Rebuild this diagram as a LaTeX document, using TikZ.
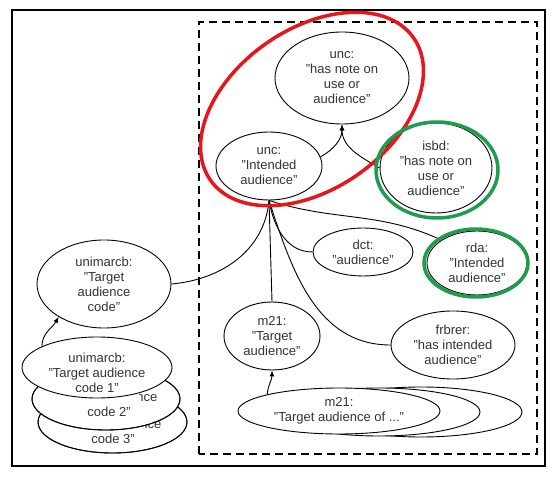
\documentclass[tikz,border=0pt]{standalone}
\usepackage{fontspec}
\setmainfont{Liberation Sans}
\usepackage{tikz}
\usetikzlibrary{shapes.geometric,arrows.meta}
\definecolor{hlred}{RGB}{232,22,28}
\definecolor{hlgreen}{RGB}{28,158,78}

\begin{document}
\begin{tikzpicture}[x=1pt,y=1pt,
  ent/.style={ellipse,draw,line width=0.9pt,fill=white,inner sep=0pt,align=center,
    text=black!80,font=\fontsize{13}{15}\selectfont},
  lbl/.style={inner sep=0pt,align=center,text=black!80,font=\fontsize{13}{15}\selectfont},
  link/.style={line width=0.9pt},
  tip/.style={-{Latex[length=6pt,width=5pt]}},
  hl/.style={line width=3.5pt}]
\useasboundingbox (0,0) rectangle (555,477);
\draw[line width=2.5pt] (12,11) rectangle (545,467);
\draw[line width=2pt,dash pattern=on 8pt off 5pt] (199,23) rectangle (537,455);
% unc
\node[ent,minimum width=134,minimum height=92] (note) at (342,399) {unc:\\"has note on\\use or\\audience"};
\node[ent,minimum width=106,minimum height=68] (intended) at (269,311) {unc:\\"Intended\\audience"};
% other vocabularies
\node[ent,minimum width=112,minimum height=90] (isbd) at (436,309) {isbd:\\"has note on\\use or\\audience"};
\node[ent,minimum width=100,minimum height=48] (dct) at (363,225) {dct:\\"audience"};
\node[ent,minimum width=100,minimum height=64] (rda) at (477,214) {rda:\\"Intended\\audience"};
\node[ent,minimum width=96,minimum height=68] (m21) at (272,141) {m21:\\"Target\\audience"};
\node[ent,minimum width=124,minimum height=68] (frbrer) at (453,132) {frbrer:\\"has intended\\audience"};
\node[ent,minimum width=134,minimum height=88] (unicode) at (104,193) {unimarcb:\\"Target\\audience\\code"};
% stacked values
\node[ent,minimum width=149,minimum height=62] (code3) at (112.5,55) {};
\node[lbl] (code3t) at (113,53.5) {unimarcb:\\"Target audience\\code 3"};
\fill[white] (55,45) rectangle (143,97);
\draw[line width=0.9pt] (112.5,55) ellipse (74.5 and 31);
\node[ent,minimum width=148,minimum height=62] (code2) at (106,78) {};
\node[lbl] (code2t) at (109,80) {unimarcb:\\"Target audience\\code 2"};
\fill[white] (45,71) rectangle (139,127);
\draw[line width=0.9pt] (106,78) ellipse (74 and 31);
\node[ent,minimum width=150,minimum height=61] (code1) at (97,109.5) {};
\node[lbl] (code1t) at (97,104.5) {unimarcb:\\"Target audience\\code 1"};
\node[ent,minimum width=202,minimum height=50] (m21ofc) at (421,65) {};
\node[ent,minimum width=202,minimum height=48] (m21ofb) at (379,65) {};
\node[ent,minimum width=202,minimum height=46] (m21of) at (339,66) {m21:\\"Target audience of ..."};
% links
\draw[link,tip] (intended.10) to[out=30,in=-90] (note.south);
\draw[link,tip] (isbd.west) to[out=150,in=-90] (note.south);
\draw[link] (unicode.east) to[out=5,in=-95] (intended.south);
\draw[link,tip] (m21.north) -- (intended.south);
\draw[link] (dct.west) to[out=180,in=-80] (intended.south);
\draw[link] (frbrer.west) to[out=180,in=-72] (intended.south);
\draw[link] (rda.north west) to[out=155,in=-18] (intended.south);
\draw[link,tip] (code1.159) to[out=90,in=-120] (unicode.216);
\draw[link,tip] (m21of.167) to[out=85,in=-90] (m21.south);
% highlights
\draw[rotate around={35:(312,368)}][hl,hlred] (312,368) ellipse (124 and 80);
\draw[hl,hlgreen] (437,307) ellipse (61 and 48);
\draw[hl,hlgreen] (476,214) ellipse (52 and 34);
\end{tikzpicture}
\end{document}
